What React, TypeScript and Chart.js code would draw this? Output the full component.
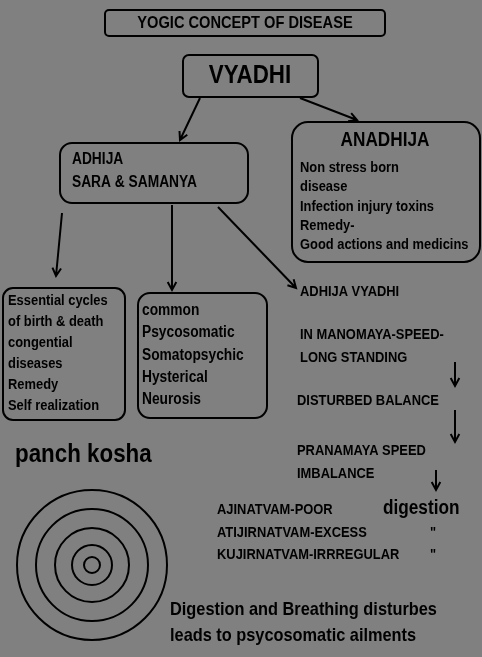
import { useEffect, useRef } from 'react';
import { Chart, registerables } from 'chart.js';

Chart.register(...registerables);

// boxes: [x, y, w, h, radius]
const BOXES: number[][] = [
  [105, 10, 280, 26, 4],
  [183, 55, 135, 42, 6],
  [292, 122, 188, 140, 16],
  [60, 143, 188, 60, 12],
  [3, 288, 122, 132, 10],
  [138, 293, 129, 125, 12],
];

// texts: [label, x, y, size, align]
const TEXTS: [string, number, number, number, string][] = [
  ['YOGIC CONCEPT OF DISEASE', 245, 23, 17, 'center'],
  ['VYADHI', 250, 76, 26, 'center'],
  ['ANADHIJA', 385, 140, 20, 'center'],
  ['Non stress born', 300, 168, 15, 'left'],
  ['disease', 300, 187, 15, 'left'],
  ['Infection injury toxins', 300, 207, 15, 'left'],
  ['Remedy-', 300, 226, 15, 'left'],
  ['Good actions and medicins', 300, 245, 15, 'left'],
  ['ADHIJA', 72, 160, 16, 'left'],
  ['SARA & SAMANYA', 72, 183, 16, 'left'],
  ['Essential cycles', 8, 301, 15, 'left'],
  ['of birth & death', 8, 322, 15, 'left'],
  ['congential', 8, 343, 15, 'left'],
  ['diseases', 8, 364, 15, 'left'],
  ['Remedy', 8, 385, 15, 'left'],
  ['Self realization', 8, 406, 15, 'left'],
  ['common', 142, 311, 16, 'left'],
  ['Psycosomatic', 142, 333, 16, 'left'],
  ['Somatopsychic', 142, 356, 16, 'left'],
  ['Hysterical', 142, 378, 16, 'left'],
  ['Neurosis', 142, 400, 16, 'left'],
  ['ADHIJA VYADHI', 300, 292, 15, 'left'],
  ['IN MANOMAYA-SPEED-', 300, 335, 15, 'left'],
  ['LONG STANDING', 300, 358, 15, 'left'],
  ['DISTURBED BALANCE', 297, 401, 15, 'left'],
  ['PRANAMAYA SPEED', 297, 451, 15, 'left'],
  ['IMBALANCE', 297, 474, 15, 'left'],
  ['AJINATVAM-POOR', 217, 510, 15, 'left'],
  ['digestion', 383, 508, 20, 'left'],
  ['ATIJIRNATVAM-EXCESS', 217, 533, 15, 'left'],
  ['"', 430, 533, 15, 'left'],
  ['KUJIRNATVAM-IRRREGULAR', 217, 555, 15, 'left'],
  ['"', 430, 555, 15, 'left'],
  ['panch kosha', 15, 455, 26, 'left'],
  ['Digestion and Breathing disturbes', 170, 610, 19, 'left'],
  ['leads to psycosomatic ailments', 170, 636, 19, 'left'],
];

// arrows: [x1, y1, x2, y2]
const ARROWS: number[][] = [
  [200, 98, 180, 140],
  [300, 98, 357, 120],
  [62, 213, 56, 276],
  [172, 205, 172, 290],
  [218, 207, 296, 288],
  [455, 362, 455, 386],
  [455, 410, 455, 442],
  [436, 470, 436, 490],
];

const RING_CENTER = [92, 565];
const RING_RADII = [75, 56, 37, 20, 8];

const diagram = {
  id: 'diagram',
  afterDraw(chart: Chart) {
    const ctx = chart.ctx;
    const sx = chart.scales.x;
    const sy = chart.scales.y;
    const px = (v: number) => sx.getPixelForValue(v);
    const py = (v: number) => sy.getPixelForValue(v);
    ctx.save();
    ctx.strokeStyle = '#000';
    ctx.fillStyle = '#000';
    ctx.lineWidth = 2;
    BOXES.forEach(([x, y, w, h, r]) => {
      ctx.beginPath();
      ctx.roundRect(px(x), py(y), px(x + w) - px(x), py(y + h) - py(y), r);
      ctx.stroke();
    });
    RING_RADII.forEach((r) => {
      ctx.beginPath();
      ctx.arc(px(RING_CENTER[0]), py(RING_CENTER[1]), px(r) - px(0), 0, Math.PI * 2);
      ctx.stroke();
    });
    ARROWS.forEach(([x1, y1, x2, y2]) => {
      const a = px(x1), b = py(y1), c = px(x2), d = py(y2);
      const ang = Math.atan2(d - b, c - a);
      ctx.beginPath();
      ctx.moveTo(a, b);
      ctx.lineTo(c, d);
      ctx.moveTo(c - 9 * Math.cos(ang - 0.5), d - 9 * Math.sin(ang - 0.5));
      ctx.lineTo(c, d);
      ctx.lineTo(c - 9 * Math.cos(ang + 0.5), d - 9 * Math.sin(ang + 0.5));
      ctx.stroke();
    });
    ctx.textBaseline = 'middle';
    const squeeze = 0.86;
    TEXTS.forEach(([t, x, y, s, al]) => {
      ctx.save();
      ctx.font = `bold ${s}px "Liberation Sans", Arial, sans-serif`;
      ctx.textAlign = al as CanvasTextAlign;
      ctx.translate(px(x), py(y));
      ctx.scale(squeeze, 1);
      ctx.fillText(t, 0, 0);
      ctx.restore();
    });
    ctx.restore();
  },
};

export default function App() {
  const canvasRef = useRef<HTMLCanvasElement>(null);

  useEffect(() => {
    document.body.style.margin = '0';
    if (!canvasRef.current) return;
    const chart = new Chart(canvasRef.current, {
      type: 'scatter',
      data: { datasets: [{ data: [], pointRadius: 0 }] },
      options: {
        responsive: false,
        animation: false,
        layout: { padding: 0 },
        plugins: { legend: { display: false }, tooltip: { enabled: false } },
        scales: {
          x: { type: 'linear', min: 0, max: 482, display: false },
          y: { type: 'linear', min: 0, max: 657, reverse: true, display: false },
        },
      },
      plugins: [diagram],
    });
    return () => chart.destroy();
  }, []);

  return (
    <div style={{ width: 482, height: 657, background: '#808080' }}>
      <canvas ref={canvasRef} width={482} height={657} />
    </div>
  );
}
